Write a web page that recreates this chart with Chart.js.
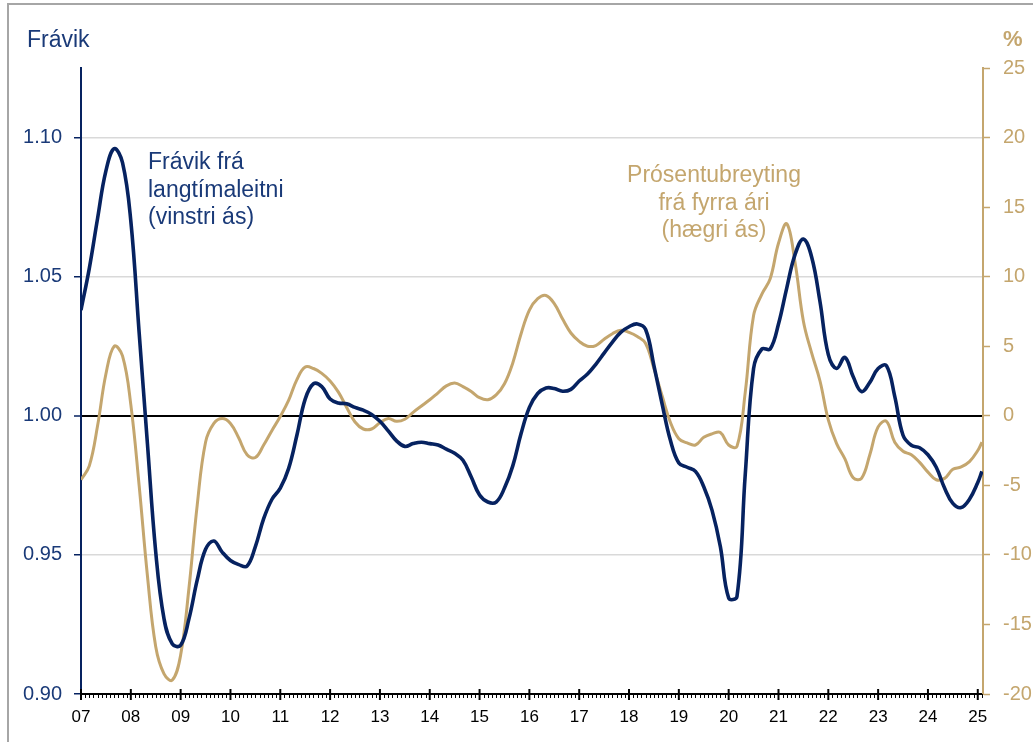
<!DOCTYPE html>
<html><head><meta charset="utf-8">
<script src="https://cdn.jsdelivr.net/npm/chart.js@4.4.1/dist/chart.umd.min.js"></script>
<style>html,body{margin:0;padding:0;background:#fff;} canvas{display:block;}</style>
</head><body>
<canvas id="c" width="1036" height="742"></canvas>
<script>
// ---- data ----
const yearTicks  = [2007,2008,2009,2010,2011,2012,2013,2014,2015,2016,2017,2018,2019,2020,2021,2022,2023,2024,2025];
const yearLabels = ['07','08','09','10','11','12','13','14','15','16','17','18','19','20','21','22','23','24','25'];
const leftTicks  = [0.90,0.95,1.00,1.05,1.10];
const rightTicks = [-20,-15,-10,-5,0,5,10,15,20,25];

// observation dates: months since Jan 2007 (every second month, last obs Feb 2025)
const monthIndex = [];
for (let m = 0; m <= 216; m += 2) monthIndex.push(m);
monthIndex.push(217);

// Frávik frá langtímaleitni (left axis)
const deviation = [
 1.038,1.053,1.071,1.088,1.096,1.091,1.070,1.030,0.990,0.951,
 0.927,0.918,0.9175,0.927,0.941,0.952,0.955,0.951,0.948,0.9465,
 0.946,0.953,0.963,0.970,0.974,0.981,0.993,1.006,1.0115,1.0105,
 1.006,1.0046,1.0043,1.003,1.002,1.0005,0.998,0.9946,0.991,0.989,
 0.990,0.9905,0.990,0.9895,0.988,0.9865,0.984,0.978,0.9715,0.969,
 0.969,0.974,0.982,0.9936,1.003,1.008,1.010,1.0098,1.0088,1.0095,
 1.0125,1.015,1.0185,1.0225,1.0265,1.030,1.032,1.033,1.031,1.018,
 1.004,0.991,0.983,0.9815,0.980,0.9745,0.966,0.953,0.9345,0.935,
 0.979,1.017,1.024,1.024,1.033,1.046,1.058,1.0635,1.057,1.041,
 1.022,1.017,1.021,1.014,1.0087,1.012,1.017,1.018,1.007,0.993,
 0.9894,0.9885,0.986,0.9815,0.974,0.9685,0.967,0.970,0.976,0.980
];

// Prósentubreyting frá fyrra ári (right axis, %)
const yoyChange = [
 -4.6,-3.6,-0.7,3.0,5.0,4.3,0.8,-5.0,-11.5,-16.6,
 -18.55,-19.0,-17.2,-12.4,-6.4,-1.9,-0.55,-0.2,-0.55,-1.6,
 -2.8,-3.0,-2.1,-1.05,-0.05,1.1,2.6,3.5,3.4,3.05,
 2.5,1.7,0.6,-0.45,-0.95,-0.95,-0.5,-0.2,-0.4,-0.25,
 0.25,0.7,1.15,1.65,2.15,2.35,2.1,1.75,1.3,1.15,
 1.5,2.3,3.8,5.9,7.6,8.42,8.65,8.06,6.95,5.95,
 5.35,5.0,5.05,5.5,5.9,6.15,6.0,5.7,5.2,3.4,
 1.4,-0.5,-1.65,-1.95,-2.1,-1.55,-1.3,-1.2,-2.1,-2.2,
 1.7,7.2,8.75,9.85,12.4,13.8,11.0,6.8,4.5,2.5,
 -0.3,-2.0,-3.1,-4.45,-4.5,-2.8,-0.8,-0.4,-1.9,-2.55,
 -2.8,-3.35,-4.05,-4.6,-4.5,-3.85,-3.68,-3.3,-2.5,-1.9
];

// ---- styling ----
const NAVY = '#062260';
const NAVY_TXT = '#1a3a78';
const GOLD = '#c4a66e';
const FONT = "'Liberation Sans', Arial, sans-serif";

const toDate = m => 2007 + m / 12;
const devPts = monthIndex.map((m, i) => ({x: toDate(m), y: deviation[i]}));
const yoyPts = monthIndex.map((m, i) => ({x: toDate(m), y: yoyChange[i]}));

const decor = {
  id: 'decor',
  beforeDraw(chart) {
    const c = chart.ctx;
    c.save();
    c.fillStyle = '#fff';
    c.fillRect(0, 0, chart.width, chart.height);
    c.restore();
  },
  afterDraw(chart) {
    const c = chart.ctx;
    const xs = chart.scales.x;
    const a = chart.chartArea;
    c.save();
    // frame
    c.strokeStyle = '#a6a6a6';
    c.lineWidth = 2;
    c.beginPath();
    c.moveTo(8, 742); c.lineTo(8, 4); c.lineTo(1033, 4);
    c.stroke();
    // monthly minor ticks and yearly major ticks on the x axis
    c.strokeStyle = '#000';
    for (let m = 0; m <= 240; m++) {
      const px = xs.getPixelForValue(toDate(m));
      if (px > a.right + 0.5) break;
      c.beginPath();
      if (m % 12 === 0) {
        c.lineWidth = 2;
        c.moveTo(px, a.bottom - 5); c.lineTo(px, a.bottom + 6);
      } else {
        c.lineWidth = 1;
        c.moveTo(Math.round(px) + 0.5, a.bottom); c.lineTo(Math.round(px) + 0.5, a.bottom + 4);
      }
      c.stroke();
    }
    // titles
    c.font = '23px ' + FONT;
    c.fillStyle = NAVY_TXT;
    c.textAlign = 'left';
    c.textBaseline = 'alphabetic';
    c.fillText('Frávik', 27, 47);
    c.font = 'bold 22px ' + FONT;
    c.fillStyle = GOLD;
    c.fillText('%', 1003, 46);
    // annotations
    c.font = '23px ' + FONT;
    c.fillStyle = NAVY_TXT;
    c.fillText('Frávik frá', 148, 169);
    c.fillText('langtímaleitni', 148, 196.5);
    c.fillText('(vinstri ás)', 148, 224);
    c.fillStyle = GOLD;
    c.textAlign = 'center';
    c.fillText('Prósentubreyting', 714, 182);
    c.fillText('frá fyrra ári', 714, 209.5);
    c.fillText('(hægri ás)', 714, 237);
    c.restore();
  }
};

new Chart(document.getElementById('c'), {
  type: 'line',
  data: {
    datasets: [
      {label: 'Frávik frá langtímaleitni', data: devPts, yAxisID: 'y', borderColor: NAVY, borderWidth: 3.6,
       pointRadius: 0, tension: 0.4, order: 0},
      {label: 'Prósentubreyting frá fyrra ári', data: yoyPts, yAxisID: 'y2', borderColor: GOLD, borderWidth: 3,
       pointRadius: 0, tension: 0.4, order: 1}
    ]
  },
  options: {
    responsive: false,
    animation: false,
    events: [],
    layout: {padding: {top: 68, left: 0, right: 0, bottom: 0}},
    plugins: {legend: {display: false}, tooltip: {enabled: false}},
    scales: {
      x: {
        type: 'linear', position: 'bottom', min: 2007, max: 2025.105,
        afterBuildTicks: s => { s.ticks = yearTicks.map(v => ({value: v})); },
        afterFit: s => { s.height = 48; },
        grid: {display: true, drawOnChartArea: false, drawTicks: false},
        border: {display: true, color: '#000', width: 2},
        ticks: {callback: (v, i) => yearLabels[i], color: '#000', font: {family: FONT, size: 17},
                padding: 13, maxRotation: 0, autoSkip: false}
      },
      y: {
        position: 'left', min: 0.90, max: 1.125,
        afterBuildTicks: s => { s.ticks = leftTicks.map(v => ({value: v})); },
        afterFit: s => { s.width = 81; },
        grid: {
          color: ctx => {
            const v = ctx.tick ? ctx.tick.value : 0;
            if (Math.abs(v - 1) < 1e-6) return '#000';
            if (Math.abs(v - 0.9) < 1e-6) return 'rgba(0,0,0,0)';
            return '#d9d9d9';
          },
          lineWidth: ctx => (ctx.tick && Math.abs(ctx.tick.value - 1) < 1e-6) ? 2 : 1.5,
          tickColor: NAVY, tickLength: 7, tickWidth: 1.5
        },
        border: {display: true, color: NAVY, width: 2},
        ticks: {color: NAVY_TXT, font: {family: FONT, size: 20}, padding: 12, callback: v => Number(v).toFixed(2)}
      },
      y2: {
        position: 'right', min: -20, max: 25,
        afterBuildTicks: s => { s.ticks = rightTicks.map(v => ({value: v})); },
        afterFit: s => { s.width = 53; },
        grid: {drawOnChartArea: false, tickColor: GOLD, tickLength: 7, tickWidth: 1.5},
        border: {display: true, color: GOLD, width: 2},
        ticks: {color: GOLD, font: {family: FONT, size: 20}, padding: 13, callback: v => String(v)}
      }
    }
  },
  plugins: [decor]
});
</script>
</body></html>
